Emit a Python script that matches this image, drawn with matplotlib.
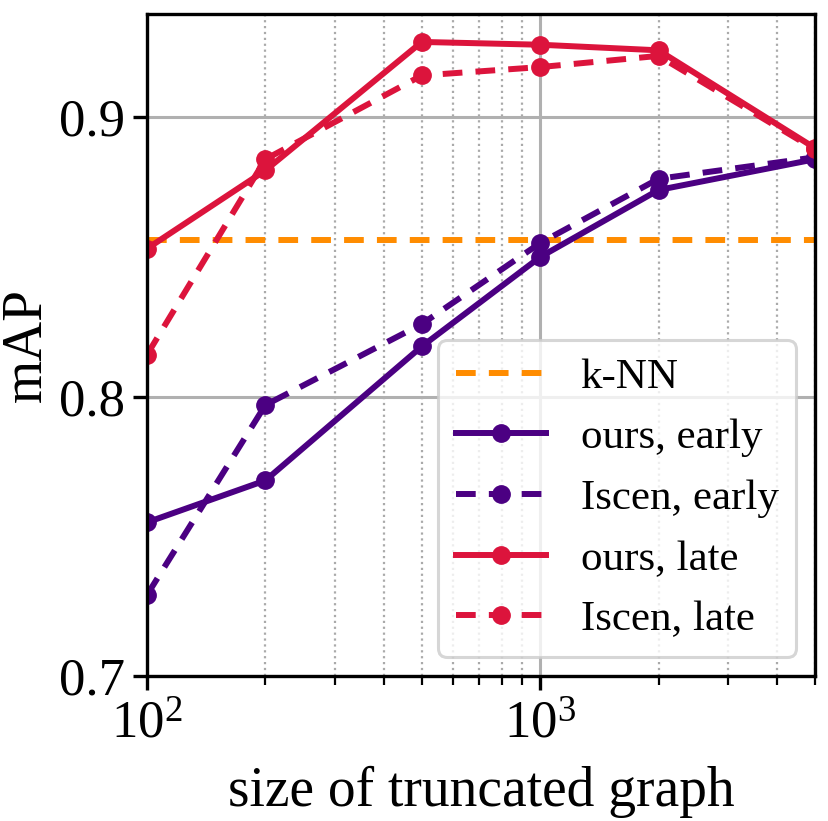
import numpy as np
import matplotlib
matplotlib.use('Agg')
import matplotlib.pyplot as plt

plt.rcParams['font.family'] = ['Liberation Serif', 'DejaVu Serif']
plt.rcParams['mathtext.fontset'] = 'stix'

sizes = [100, 200, 500, 1000, 2000, 5000]
knn = 0.856
ours_early = [0.755, 0.770, 0.818, 0.850, 0.874, 0.885]
iscen_early = [0.729, 0.797, 0.826, 0.855, 0.878, 0.8857]
ours_late = [0.853, 0.881, 0.927, 0.926, 0.924, 0.889]
iscen_late = [0.815, 0.885, 0.915, 0.918, 0.922, 0.8885]

purple = '#4B0082'
red = '#DC143C'
orange = '#FF8C00'

fig = plt.figure(figsize=(8.29, 8.21), dpi=100)
ax = fig.add_axes([147/829, 1 - 676/821, (815-147)/829, (676-14)/821])

lw = 4.3
ms = 12.5
dd = (3.3, 2.2)
ax.axhline(knn, color=orange, ls='--', lw=lw, label='k-NN', dashes=dd)
ax.plot(sizes, ours_early, color=purple, ls='-', lw=lw, marker='o', ms=ms, label='ours, early')
ax.plot(sizes, iscen_early, color=purple, ls='--', lw=lw, marker='o', ms=ms, label='Iscen, early', dashes=dd)
ax.plot(sizes, ours_late, color=red, ls='-', lw=lw, marker='o', ms=ms, label='ours, late')
ax.plot(sizes, iscen_late, color=red, ls='--', lw=lw, marker='o', ms=ms, label='Iscen, late', dashes=dd)

ax.set_xscale('log')
ax.set_xlim(100, 5000)
ax.set_ylim(0.7, 0.937)
ax.set_yticks([0.7, 0.8, 0.9])
ax.set_yticklabels(['0.7', '0.8', '0.9'])

ax.grid(True, which='major', color='#b0b0b0', lw=2.2, ls='-')
ax.grid(True, which='minor', axis='x', color='#aaaaaa', lw=1.6, ls=':')
ax.set_axisbelow(True)

for s in ax.spines.values():
    s.set_linewidth(2.4)
ax.tick_params(which='major', length=10, width=2.4, labelsize=38, pad=6)
ax.tick_params(axis='x', which='major', pad=8)
ax.tick_params(which='minor', length=6.5, width=1.6)

ax.set_xlabel('size of truncated graph', fontsize=40, labelpad=12)
ax.set_ylabel('mAP', fontsize=40, labelpad=4)

leg = ax.legend(loc='lower right', fontsize=31, handlelength=2.1, borderaxespad=0.45,
                framealpha=0.8, edgecolor='#cccccc', handletextpad=0.8, labelspacing=0.5)
leg.get_frame().set_linewidth(2.2)

fig.savefig('out.png', dpi=100)
